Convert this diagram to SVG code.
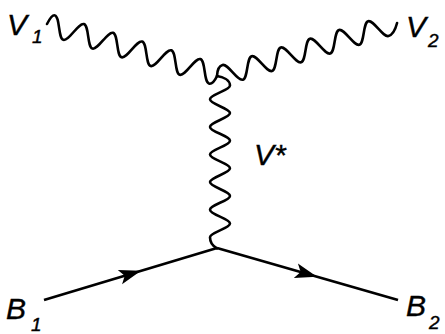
<svg xmlns="http://www.w3.org/2000/svg" width="445" height="334" viewBox="0 0 445 334">
  <style>
    .lbl { font-family: "Liberation Sans", Arial, sans-serif; font-style: italic; font-size: 30px; fill: #000; stroke: #000; stroke-width: 0.4; }
    .sub { font-size: 19px; }
    .wave { fill: none; stroke: #000; stroke-width: 2.6; stroke-linejoin: round; stroke-linecap: round; }
    .line { fill: none; stroke: #000; stroke-width: 2.8; stroke-linecap: butt; }
    .head { fill: #000; stroke: none; }
  </style>
  <defs>
    <path id="arrowhead" class="head" d="M0,0 L-22,-7.5 L-17,0 L-22,7.5 Z"/>
  </defs>
  <g id="connectors">
    <path id="wave-v1" class="wave" transform="translate(47,24) rotate(16.7)"
      d="M0,0 Q2,-10.5 5,-10.5
         c5.5,0 9.7,21 15.2,21 c5.5,0 9.7,-21 15.2,-21
         c5.5,0 9.7,21 15.2,21 c5.5,0 9.7,-21 15.2,-21
         c5.5,0 9.7,21 15.2,21 c5.5,0 9.7,-21 15.2,-21
         c5.5,0 9.7,21 15.2,21 c5.5,0 9.7,-21 15.2,-21
         c5.5,0 9.7,21 15.2,21 c5.5,0 9.7,-21 15.2,-21
         c5.5,0 9.7,21 15.2,21 q4,0 5.6,-9.5"/>
    <path id="wave-v2" class="wave" transform="translate(217,76) rotate(-16.7)"
      d="M0,0 Q3,-9 8.5,-9
         c5.5,0 9.7,20 15.2,20 c5.5,0 9.7,-20 15.2,-20
         c5.5,0 9.7,20 15.2,20 c5.5,0 9.7,-20 15.2,-20
         c5.5,0 9.7,20 15.2,20 c5.5,0 9.7,-20 15.2,-20
         c5.5,0 9.7,20 15.2,20 c5.5,0 9.7,-20 15.2,-20
         c5.5,0 9.7,20 15.2,20 c5.5,0 9.7,-20 15.2,-20
         c5.5,0 9.7,20 15.2,20 q6,0 12,-10"/>
    <path id="wave-vstar" class="wave"
      d="M217,76 c6,1 13,4 13,9.5
         c0,5 -20,8.8 -20,13.8 c0,5 20,8.8 20,13.8
         c0,5 -20,8.8 -20,13.8 c0,5 20,8.8 20,13.8
         c0,5 -20,8.8 -20,13.8 c0,5 20,8.8 20,13.8
         c0,5 -20,8.8 -20,13.8 c0,5 20,8.8 20,13.8
         c0,5 -20,8.8 -20,13.8 c0,5 20,8.8 20,13.8
         c0,5 -20,8.8 -20,13.8 c0,5 3,9 7,11"/>
    <line id="line-b1" class="line" x1="44" y1="300" x2="217" y2="248"/>
    <line id="line-b2" class="line" x1="217" y1="248" x2="398" y2="300"/>
    <use href="#arrowhead" transform="translate(141,270.8) rotate(-16.7)"/>
    <use href="#arrowhead" transform="translate(317,276.8) rotate(16.0)"/>
  </g>
  <g id="node-v1"><text class="lbl" x="7" y="35">V<tspan class="sub" x="32" y="43">1</tspan></text></g>
  <g id="node-v2"><text class="lbl" x="406" y="37">V<tspan class="sub" x="428" y="47">2</tspan></text></g>
  <g id="node-vstar"><text class="lbl" x="254" y="165">V*</text></g>
  <g id="node-b1"><text class="lbl" x="6" y="319">B<tspan class="sub" x="31" y="331">1</tspan></text></g>
  <g id="node-b2"><text class="lbl" x="406" y="316">B<tspan class="sub" x="429" y="329">2</tspan></text></g>
</svg>
